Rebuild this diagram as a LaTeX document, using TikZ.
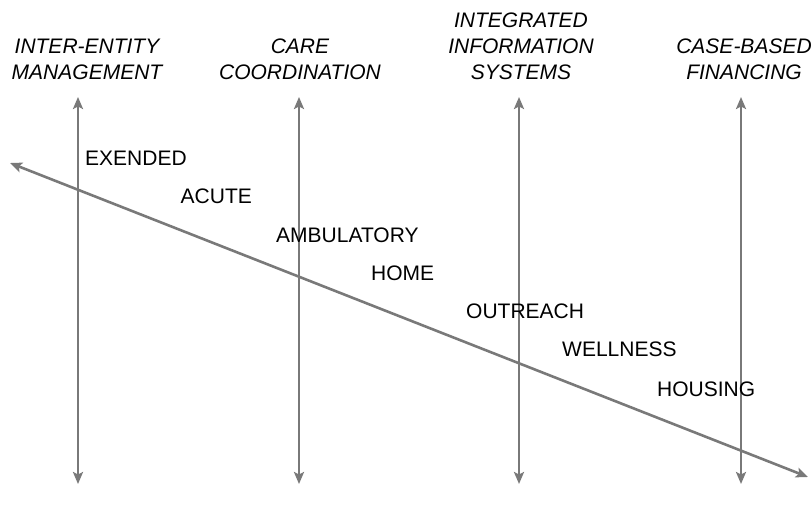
\documentclass[tikz,border=0pt]{standalone}
\usepackage{fontspec}
\setmainfont{Liberation Sans}
\usetikzlibrary{arrows.meta}

\begin{document}
\begin{tikzpicture}[x=1pt,y=-1pt,
         axis/.style = {draw=gray!95!black,line width=2.6pt,
            {Stealth[length=12pt,width=10pt,inset=2.5pt]}-{Stealth[length=12pt,width=10pt,inset=2.5pt]}},
         heading/.style = {font=\fontsize{21}{26}\selectfont\itshape,align=center,
            anchor=south,inner sep=0pt},
         setting/.style = {font=\fontsize{21}{26}\selectfont,anchor=base west,inner sep=0pt}
]
   \useasboundingbox (0,0) rectangle (811,518);

   % the four strategies
   \coordinate (ie1) at (78,97);   \coordinate (ie2) at (78,484);
   \coordinate (cc1) at (299,97);  \coordinate (cc2) at (299,484);
   \coordinate (ii1) at (519,97);  \coordinate (ii2) at (519,484);
   \coordinate (cf1) at (741,97);  \coordinate (cf2) at (741,484);
   \draw[axis] (ie1) -- (ie2);
   \draw[axis] (cc1) -- (cc2);
   \draw[axis] (ii1) -- (ii2);
   \draw[axis] (cf1) -- (cf2);

   \node[heading] (hie) at (87,80)  {INTER-ENTITY\\MANAGEMENT};
   \node[heading] (hcc) at (300,80) {CARE\\COORDINATION};
   \node[heading] (hii) at (521,80) {INTEGRATED\\INFORMATION\\SYSTEMS};
   \node[heading] (hcf) at (744,80) {CASE-BASED\\FINANCING};

   % continuum of care
   \coordinate (cont1) at (10,163);
   \coordinate (cont2) at (808,477);
   \draw[axis] (cont1) -- (cont2);

   \node[setting] (ext) at (85,166)    {EXENDED};
   \node[setting] (acu) at (180.5,204) {ACUTE};
   \node[setting] (amb) at (276,243)   {AMBULATORY};
   \node[setting] (hom) at (371,281)   {HOME};
   \node[setting] (out) at (466,319)   {OUTREACH};
   \node[setting] (wel) at (562,357)   {WELLNESS};
   \node[setting] (hou) at (657,396)   {HOUSING};
\end{tikzpicture}
\end{document}
